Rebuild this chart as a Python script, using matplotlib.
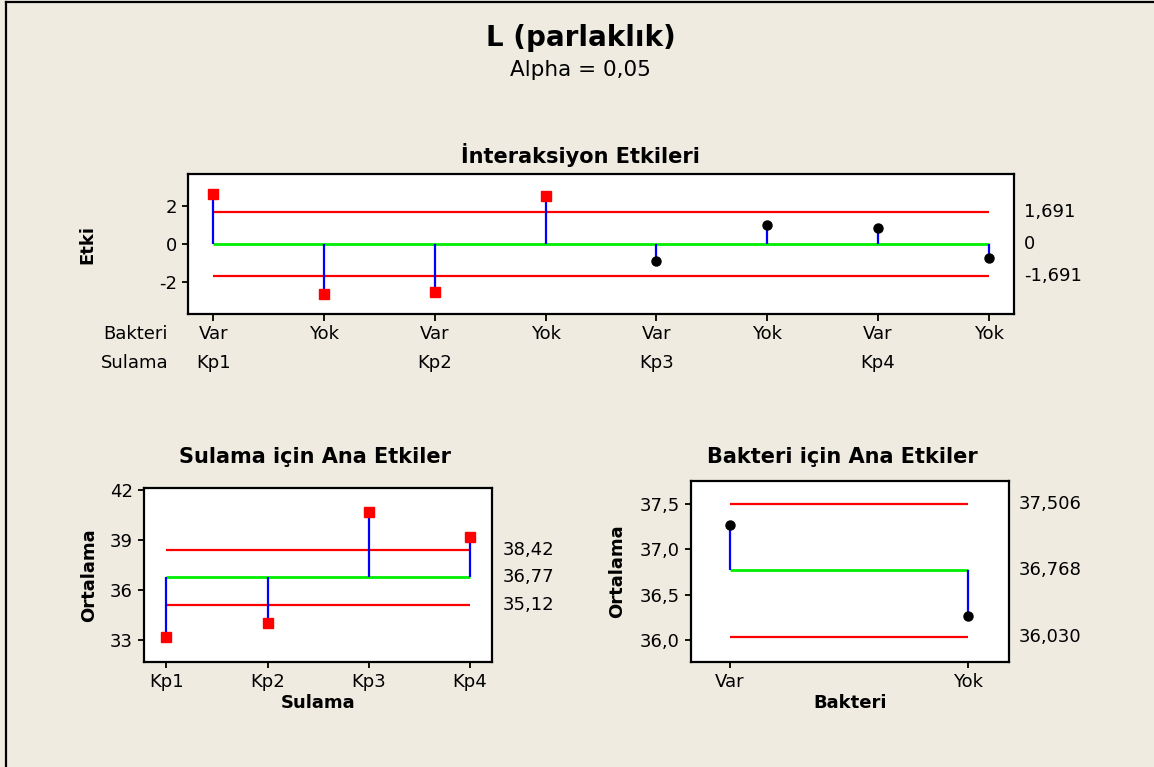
import matplotlib.pyplot as plt
from matplotlib.lines import Line2D

# --- data ---
bakteri_levels = ["Var", "Yok"]
sulama_levels = ["Kp1", "Kp2", "Kp3", "Kp4"]

# interaction effects, order: (Kp1,Var) (Kp1,Yok) (Kp2,Var) ... (Kp4,Yok)
inter_bakteri = ["Var", "Yok", "Var", "Yok", "Var", "Yok", "Var", "Yok"]
inter_sulama = ["Kp1", "", "Kp2", "", "Kp3", "", "Kp4", ""]
inter_effects = [2.61, -2.63, -2.52, 2.50, -0.92, 0.96, 0.84, -0.74]
inter_center = 0.0
inter_limit = 1.691

sulama_means = [33.20, 34.00, 40.70, 39.18]
sulama_center = 36.77
sulama_limits = [35.12, 38.42]

bakteri_means = [37.27, 36.266]
bakteri_center = 36.768
bakteri_limits = [36.030, 37.506]

BG = "#EFEBE1"
RED = "#FF0000"
BLUE = "#0000FF"
GREEN = "#00EE00"
FS = 13

plt.rcParams["font.family"] = ["DejaVu Sans"]

fig = plt.figure(figsize=(11.54, 7.67), dpi=100)
fig.patch.set_facecolor(BG)

# outer frame (only left and top edges are visible in the reference)
fx = 6 / 1154
fy = 1 - 1.5 / 767
fig.add_artist(Line2D([fx, fx], [0, fy], color="black", lw=1.6, transform=fig.transFigure))
fig.add_artist(Line2D([fx, 1], [fy, fy], color="black", lw=1.6, transform=fig.transFigure))


def style_axes(ax):
    ax.set_facecolor("white")
    for s in ax.spines.values():
        s.set_linewidth(1.6)
        s.set_color("black")
    ax.tick_params(direction="out", length=4, width=1.3, labelsize=FS, pad=4, colors="black")


def effect_panel(ax, x, values, center, lo, hi, fmt, label_x=1.03):
    # limits and centre line
    ax.hlines([lo, hi], x[0], x[-1], color=RED, lw=1.6, zorder=2)
    ax.hlines(center, x[0], x[-1], color=GREEN, lw=2.0, zorder=2)
    # stems
    ax.vlines(x, center, values, color=BLUE, lw=1.6, zorder=3)
    for xi, v in zip(x, values):
        if v > hi or v < lo:
            ax.plot(xi, v, marker="s", ms=7.5, color=RED, mec=RED, zorder=4)
        else:
            ax.plot(xi, v, marker="o", ms=6.5, color="black", zorder=4)
    # right-hand labels
    for val in [hi, center, lo]:
        ax.text(label_x, val, fmt(val), transform=ax.get_yaxis_transform(),
                ha="left", va="center", fontsize=FS)


def comma(v, nd):
    return f"{v:.{nd}f}".replace(".", ",")


# main titles
fig.text(0.503, 1 - 38 / 767, "L (parlaklık)", ha="center", va="center", fontsize=20, fontweight="bold")
fig.text(0.503, 1 - 70 / 767, "Alpha = 0,05", ha="center", va="center", fontsize=15.5)

# ---------------- interaction effects ----------------
ax1 = fig.add_axes([188 / 1154, 1 - 314 / 767, 826 / 1154, 140 / 767])
style_axes(ax1)
x1 = list(range(1, len(inter_effects) + 1))
effect_panel(ax1, x1, inter_effects, inter_center, -inter_limit, inter_limit,
             lambda v: "0" if v == 0 else comma(v, 3), label_x=1.012)
ax1.set_xlim(0.77, 8.23)
ax1.set_ylim(-3.7, 3.67)
ax1.set_yticks([-2, 0, 2])
ax1.set_yticklabels(["-2", "0", "2"])
ax1.set_xticks(x1)
ax1.set_xticklabels([])
ax1.tick_params(axis="x", length=5)
ax1.set_ylabel("Etki", fontsize=FS, fontweight="bold")
ax1.yaxis.set_label_coords(-0.111, 0.5)
for xi, b, s in zip(x1, inter_bakteri, inter_sulama):
    ax1.text(xi, -0.143, b, transform=ax1.get_xaxis_transform(), ha="center", va="center", fontsize=FS)
    if s:
        ax1.text(xi, -0.35, s, transform=ax1.get_xaxis_transform(), ha="center", va="center", fontsize=FS)
ax1.text(-0.024, -0.143, "Bakteri", transform=ax1.transAxes, ha="right", va="center", fontsize=FS)
ax1.text(-0.024, -0.35, "Sulama", transform=ax1.transAxes, ha="right", va="center", fontsize=FS)
fig.text(580 / 1154, 1 - 155 / 767, "İnteraksiyon Etkileri", ha="center", va="center",
         fontsize=15, fontweight="bold")

# ---------------- Sulama main effects ----------------
ax2 = fig.add_axes([144 / 1154, 1 - 661.7 / 767, 348.3 / 1154, 173.4 / 767])
style_axes(ax2)
x2 = list(range(1, len(sulama_means) + 1))
effect_panel(ax2, x2, sulama_means, sulama_center, sulama_limits[0], sulama_limits[1],
             lambda v: comma(v, 2))
ax2.set_xlim(0.78, 4.22)
ax2.set_ylim(31.7, 42.1)
ax2.set_yticks([33, 36, 39, 42])
ax2.set_xticks(x2)
ax2.set_xticklabels(sulama_levels)
ax2.set_xlabel("Sulama", fontsize=FS, fontweight="bold", labelpad=2)
ax2.set_ylabel("Ortalama", fontsize=FS, fontweight="bold")
ax2.yaxis.set_label_coords(-0.132, 0.5)
fig.text(315 / 1154, 1 - 457 / 767, "Sulama için Ana Etkiler", ha="center", va="center",
         fontsize=15, fontweight="bold")

# ---------------- Bakteri main effects ----------------
ax3 = fig.add_axes([690.7 / 1154, 1 - 661.7 / 767, 318 / 1154, 181 / 767])
style_axes(ax3)
x3 = list(range(1, len(bakteri_means) + 1))
effect_panel(ax3, x3, bakteri_means, bakteri_center, bakteri_limits[0], bakteri_limits[1],
             lambda v: comma(v, 3))
ax3.set_xlim(0.835, 2.172)
ax3.set_ylim(35.76, 37.76)
ax3.set_yticks([36.0, 36.5, 37.0, 37.5])
ax3.set_yticklabels(["36,0", "36,5", "37,0", "37,5"])
ax3.set_xticks(x3)
ax3.set_xticklabels(bakteri_levels)
ax3.set_xlabel("Bakteri", fontsize=FS, fontweight="bold", labelpad=2)
ax3.set_ylabel("Ortalama", fontsize=FS, fontweight="bold")
ax3.yaxis.set_label_coords(-0.203, 0.5)
fig.text(842 / 1154, 1 - 457 / 767, "Bakteri için Ana Etkiler", ha="center", va="center",
         fontsize=15, fontweight="bold")

fig.savefig("out.png", dpi=100, facecolor=BG)
